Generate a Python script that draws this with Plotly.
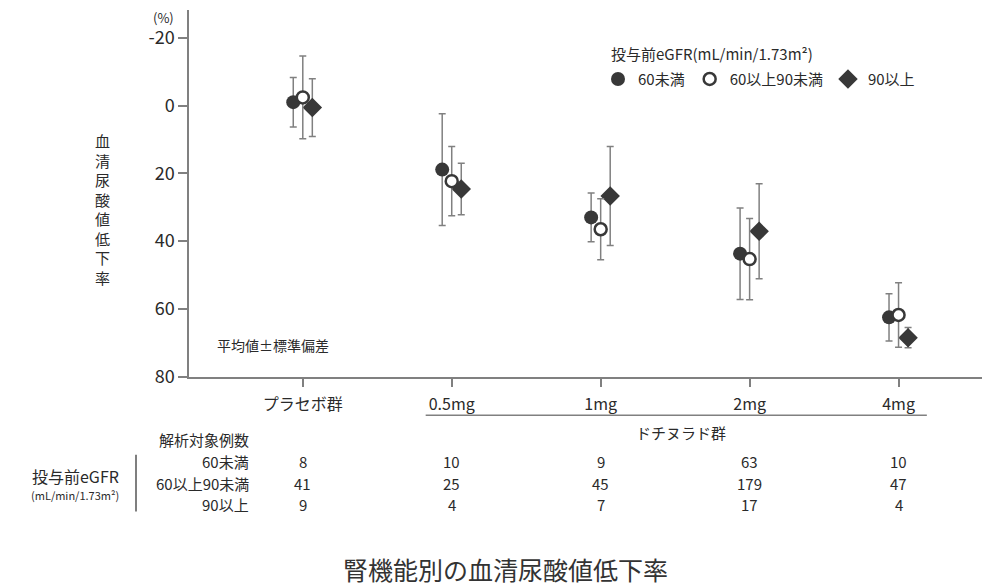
import plotly.graph_objects as go

categories = ["プラセボ群", "0.5mg", "1mg", "2mg", "4mg"]
series_names = ["60未満", "60以上90未満", "90以上"]
mean_lt60 = [-1.0, 18.9, 33.0, 43.7, 62.5]
sd_lt60 = [7.3, 16.5, 7.2, 13.5, 7.0]
mean_60_90 = [-2.4, 22.3, 36.5, 45.3, 61.8]
sd_60_90 = [12.2, 10.2, 9.0, 12.0, 9.5]
mean_ge90 = [0.6, 24.6, 26.7, 37.1, 68.5]
sd_ge90 = [8.5, 7.6, 14.6, 14.0, 3.0]
n_lt60 = [8, 10, 9, 63, 10]
n_60_90 = [41, 25, 45, 179, 47]
n_ge90 = [9, 4, 7, 17, 4]
ytick_vals = [-20, 0, 20, 40, 60, 80]
ytick_text = ["-20", "0", "20", "40", "60", "80"]

FONT = "Noto Sans CJK JP"
DARK = "#383838"
TXT = "#2a2a2a"
GRAY = "#808080"
idx = list(range(len(categories)))
offsets = [-0.064, 0.0, 0.064]

fig = go.Figure()
specs = [
    (mean_lt60, sd_lt60, dict(symbol="circle", size=14, color=DARK, line=dict(width=0))),
    (mean_ge90, sd_ge90, dict(symbol="diamond", size=15, color=DARK, line=dict(width=0))),
    (mean_60_90, sd_60_90, dict(symbol="circle", size=12, color="white", line=dict(width=2.5, color=DARK))),
]
order = [0, 2, 1]
for k, (m, s, mk) in zip(order, specs):
    fig.add_trace(go.Scatter(
        x=[i + offsets[k] for i in idx], y=m, mode="markers", name=series_names[k],
        marker=mk, legendrank=k,
        error_y=dict(type="data", array=s, visible=True, color=GRAY, thickness=1.5, width=3.5),
        cliponaxis=False,
    ))

def py(p):
    return (377.3 - p) / 367.3

def px(p):
    return (p - 189) / 801

ann = []

def add(text, x, y, size, xanchor="center", xref="paper", color=TXT):
    ann.append(dict(text=text, xref=xref, yref="paper", x=x, y=y, xanchor=xanchor, yanchor="middle",
                    showarrow=False, font=dict(size=size, color=color)))

add("(%)", px(163), py(18), 13)
add("<br>".join(list("血清尿酸値低下率")), px(102), py(209), 15)
add("平均値±標準偏差", px(215), py(345), 14, xanchor="left")
add("投与前eGFR(mL/min/1.73m²)", px(609), py(53.3), 15, xanchor="left")
add("ドチヌラド群", 2.538, py(433), 15, xref="x")
add("解析対象例数", px(251), py(440), 15, xanchor="right")
row_y = [461.5, 483.5, 505]
for name, ns, yy in zip(series_names, [n_lt60, n_60_90, n_ge90], row_y):
    add(name, px(251), py(yy), 15, xanchor="right")
    for i, n in zip(idx, ns):
        add(str(n), i, py(yy), 15, xref="x")
add("投与前eGFR", px(75), py(476), 16)
add("(mL/min/1.73m²)", px(75), py(495), 11)
add("腎機能別の血清尿酸値低下率", px(505), py(569), 25, color="#333333")

shapes = [
    dict(type="line", xref="x", yref="paper", x0=0.825, x1=4.19, y0=py(415.7), y1=py(415.7),
         line=dict(color=GRAY, width=1.5)),
    dict(type="line", xref="paper", yref="paper", x0=px(136), x1=px(136), y0=py(455), y1=py(512),
         line=dict(color="#555555", width=1.5)),
]

fig.update_layout(
    width=982, height=578,
    margin=dict(l=181, r=0, t=2, b=208.7, autoexpand=False),
    paper_bgcolor="white", plot_bgcolor="white",
    font=dict(family=FONT, color=TXT, size=15),
    showlegend=True,
    legend=dict(orientation="h", x=px(598), y=py(79.3), xanchor="left", yanchor="middle",
                font=dict(size=15, color=TXT), bgcolor="rgba(0,0,0,0)"),
    xaxis=dict(range=[-0.764, 4.614], tickvals=idx, ticktext=categories, showgrid=False, zeroline=False,
               showline=True, linecolor=GRAY, linewidth=1.5, ticks="outside", ticklen=8, tickcolor=GRAY,
               tickwidth=1.5, ticklabelstandoff=4, tickfont=dict(size=16, color=TXT)),
    yaxis=dict(range=[80.1, -28.2], tickvals=ytick_vals, ticktext=ytick_text, showgrid=False, zeroline=False,
               showline=True, linecolor=GRAY, linewidth=1.5, ticks="outside", ticklen=9, tickcolor=GRAY,
               tickwidth=1.5, tickfont=dict(size=18, color=TXT)),
    annotations=ann, shapes=shapes,
)

fig.write_html("out.html")
